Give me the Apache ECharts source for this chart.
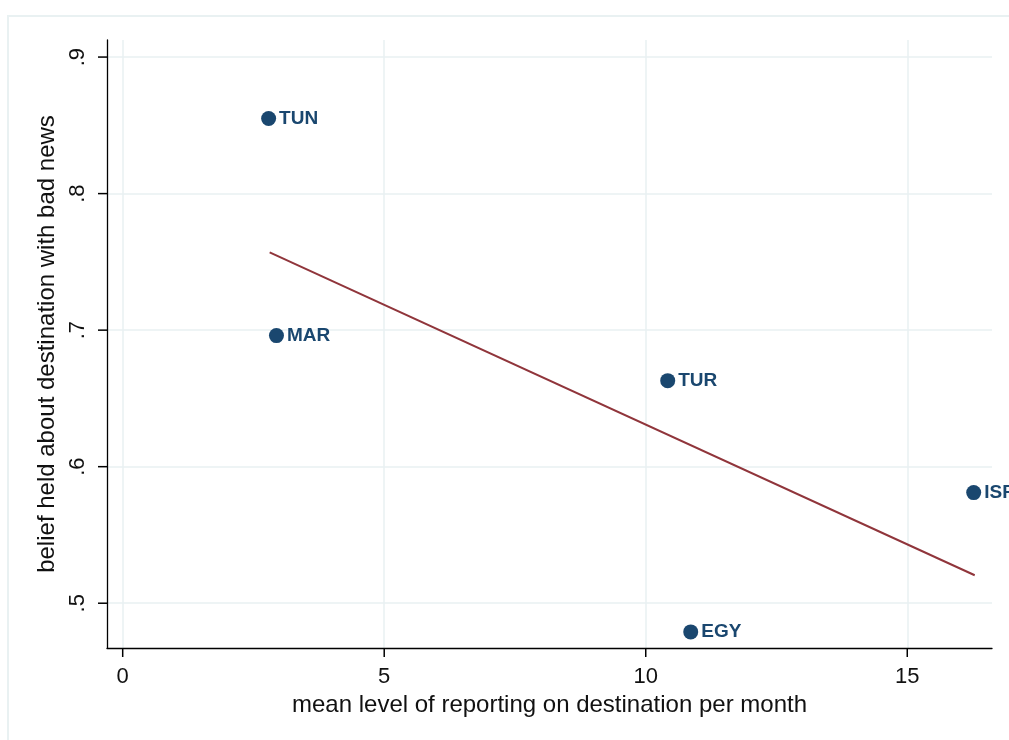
<!DOCTYPE html>
<html>
<head>
<meta charset="utf-8">
<script src="https://cdn.jsdelivr.net/npm/echarts@6/dist/echarts.min.js"></script>
<style>
html,body{margin:0;padding:0;background:#fff;overflow:hidden;}
#chart{width:1009px;height:740px;}
</style>
</head>
<body>
<div id="chart"></div>
<script>
// Data
const countries = ['TUN', 'MAR', 'TUR', 'ISR', 'EGY'];
const reporting = [2.79, 2.94, 10.42, 16.27, 10.86];
const belief = [0.855, 0.696, 0.663, 0.581, 0.479];
const fitX = [2.81, 16.29];
const fitY = [0.757, 0.5205];
const xTicks = [0, 5, 10, 15];
const yTicks = [0.5, 0.6, 0.7, 0.8, 0.9];

const X_MIN = -0.3, X_MAX = 16.62, Y_MIN = 0.4672, Y_MAX = 0.9125;

const points = countries.map((c, i) => ({ name: c, value: [reporting[i], belief[i]] }));
const fitLine = fitX.map((x, i) => [x, fitY[i]]);

const chart = echarts.init(document.getElementById('chart'), null, { renderer: 'canvas' });
const font = '"Liberation Sans", Arial, Helvetica, sans-serif';
const gridColor = '#e8f0f2';

const borderRect = {
  id: 'border',
  type: 'rect',
  shape: { x: 8, y: 16, width: 1100, height: 800 },
  style: { fill: 'none', stroke: '#e9f1f2', lineWidth: 2 },
  silent: true, z: -1
};

chart.setOption({
  animation: false,
  backgroundColor: '#ffffff',
  graphic: [borderRect],
  grid: { left: 107, top: 40, right: 17, bottom: 92, containLabel: false },
  xAxis: {
    type: 'value',
    min: X_MIN,
    max: X_MAX,
    name: 'mean level of reporting on destination per month',
    nameLocation: 'middle',
    nameGap: 44,
    nameTextStyle: { fontFamily: font, fontSize: 24, color: '#111' },
    axisLine: { show: true, onZero: false, lineStyle: { color: '#000', width: 1.3 } },
    axisTick: { show: false, customValues: xTicks },
    axisLabel: { customValues: xTicks, fontFamily: font, fontSize: 22, color: '#111', margin: 18,
      formatter: v => String(v) },
    splitLine: { show: true, lineStyle: { color: gridColor, width: 1.5 } }
  },
  yAxis: {
    type: 'value',
    min: Y_MIN,
    max: Y_MAX,
    name: 'belief held about destination with bad news',
    nameLocation: 'middle',
    nameGap: 38,
    nameRotate: 90,
    nameTextStyle: { fontFamily: font, fontSize: 24, color: '#111' },
    axisLine: { show: true, onZero: false, lineStyle: { color: '#000', width: 1.3 } },
    axisTick: { show: false, customValues: yTicks },
    axisLabel: { customValues: yTicks, rotate: 90, fontFamily: font, fontSize: 22, color: '#111', margin: 18,
      formatter: v => Number(v).toFixed(1).replace(/^0/, '') },
    splitLine: { show: true, lineStyle: { color: gridColor, width: 1.5 } }
  },
  series: [
    {
      type: 'scatter',
      data: points,
      symbol: 'circle',
      symbolSize: 15,
      itemStyle: { color: '#1a476f', opacity: 1 },
      label: {
        show: true,
        position: 'right',
        distance: 3,
        formatter: p => p.name,
        fontFamily: font,
        fontWeight: 'bold',
        fontSize: 19,
        color: '#1a476f'
      },
      z: 3
    },
    {
      type: 'line',
      data: fitLine,
      symbol: 'none',
      lineStyle: { color: '#90353b', width: 2 },
      z: 2
    }
  ]
});

// Outward tick marks, positioned through the chart's own scales
const tickGraphics = [borderRect];
xTicks.forEach((v, i) => {
  const p = chart.convertToPixel({ gridIndex: 0 }, [v, Y_MIN]);
  tickGraphics.push({
    id: 'xt' + i, type: 'line', silent: true, z: 10,
    shape: { x1: p[0], y1: p[1], x2: p[0], y2: p[1] + 9 },
    style: { stroke: '#000', lineWidth: 1.5 }
  });
});
yTicks.forEach((v, i) => {
  const p = chart.convertToPixel({ gridIndex: 0 }, [X_MIN, v]);
  tickGraphics.push({
    id: 'yt' + i, type: 'line', silent: true, z: 10,
    shape: { x1: p[0] - 9, y1: p[1], x2: p[0], y2: p[1] },
    style: { stroke: '#000', lineWidth: 1.5 }
  });
});
chart.setOption({ graphic: tickGraphics });
</script>
</body>
</html>
